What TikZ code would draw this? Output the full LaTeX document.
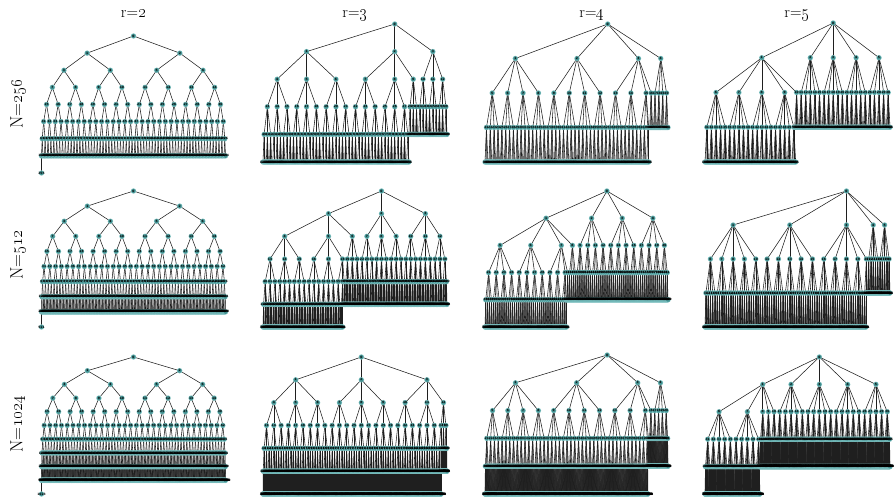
\documentclass[tikz,border=0pt]{standalone}
\makeatletter
\newcount\Nn \newcount\Rr \newcount\Dd
\newcount\ii \newcount\ie \newcount\ca \newcount\cb \newcount\kk \newcount\mm \newcount\dd \newcount\tmp
\newdimen\xprev \newdimen\xc \newdimen\xmax \newdimen\xa \newdimen\ya
\newif\iffirstinlevel
\font\labfnt="DejaVu Sans/B" at 3bp
\def\labfont{\labfnt}
\def\dolevel{%
  \ifnum\dd<0 \else
    \ii=\csname ls@\the\dd\endcsname\relax
    \tmp=\dd \advance\tmp 1
    \ie=\csname ls@\the\tmp\endcsname\relax
    \firstinleveltrue
    \loop
      \ca=\ii \multiply\ca\Rr \advance\ca 1
      \ifnum\ca<\Nn
        \cb=\ca \advance\cb\Rr \advance\cb -1
        \ifnum\cb<\Nn \else \cb=\Nn \advance\cb -1 \fi
        \kk=\cb \advance\kk -\ca \advance\kk 1
        \ifodd\kk
          \mm=\kk \advance\mm -1 \divide\mm 2 \advance\mm\ca
          \xc=\csname px@\the\mm\endcsname\relax
        \else
          \mm=\kk \divide\mm 2 \advance\mm -1 \advance\mm\ca
          \xc=\csname px@\the\mm\endcsname\relax
          \advance\mm 1
          \advance\xc\csname px@\the\mm\endcsname\relax
          \divide\xc 2
        \fi
        \iffirstinlevel\else
          \xa=\xprev \advance\xa 1pt
          \ifdim\xc<\xa \xc=\xa \fi
        \fi
      \else
        \iffirstinlevel \xc=0pt \else \xc=\xprev \advance\xc 1pt \fi
      \fi
      \expandafter\xdef\csname px@\the\ii\endcsname{\the\xc}%
      \expandafter\xdef\csname pd@\the\ii\endcsname{\the\dd}%
      \ifdim\xc>\xmax \xmax=\xc \fi
      \xprev=\xc
      \firstinlevelfalse
      \advance\ii 1
    \ifnum\ii<\ie \repeat
    \advance\dd -1
    \expandafter\dolevel
  \fi}
\def\computelayout{%
  \dd=0 \ii=0
  \expandafter\xdef\csname ls@0\endcsname{0}%
  \loop
    \tmp=\ii \multiply\tmp\Rr \advance\tmp 1
  \ifnum\tmp<\Nn
    \advance\dd 1 \ii=\tmp
    \expandafter\xdef\csname ls@\the\dd\endcsname{\the\ii}%
  \repeat
  \Dd=\dd
  \tmp=\dd \advance\tmp 1
  \expandafter\xdef\csname ls@\the\tmp\endcsname{\the\Nn}%
  \xmax=0pt
  \dolevel}
% #1 N, #2 r, #3 x left, #4 x right, #5 y top, #6 y bottom  (units: px = bp)
\def\drawpanel#1#2#3#4#5#6{%
  \Nn=#1 \Rr=#2
  \computelayout
  \pgfmathsetmacro\sxf{(#4-#3)/\xmax}%
  \pgfmathsetmacro\syf{(#6-#5)/\Dd}%
  \ii=0
  \loop
    \xa=\csname px@\the\ii\endcsname\relax
    \xa=\sxf\xa \advance\xa #3pt
    \ya=\csname pd@\the\ii\endcsname pt\relax
    \ya=\syf\ya \advance\ya #5pt \ya=-\ya
    \expandafter\xdef\csname qx@\the\ii\endcsname{\strip@pt\xa}%
    \expandafter\xdef\csname qy@\the\ii\endcsname{\strip@pt\ya}%
    \advance\ii 1
  \ifnum\ii<\Nn \repeat
  % connectors parent -> child
  \ii=1
  \loop
    \tmp=\ii \advance\tmp -1 \divide\tmp\Rr
    \pgfsys@invoke{q 0.55 w 0.12 0.12 0.12 RG \csname qx@\the\tmp\endcsname\space\csname qy@\the\tmp\endcsname\space m \csname qx@\the\ii\endcsname\space\csname qy@\the\ii\endcsname\space l S Q}%
    \advance\ii 1
  \ifnum\ii<\Nn \repeat
  % node discs (light ring + teal core)
  \ii=0
  \loop
    \edef\pxy{\csname qx@\the\ii\endcsname\space\csname qy@\the\ii\endcsname}%
    \pgfsys@invoke{q 1 J 5.4 w 0.47 0.74 0.74 RG \pxy\space m \pxy\space l S 4.0 w 0.26 0.56 0.56 RG \pxy\space m \pxy\space l S Q}%
    \advance\ii 1
  \ifnum\ii<\Nn \repeat
  % node labels
  \pgftext[left,base,at=\pgfpointorigin]{\hbox to 0pt{\labfont\ii=0 \loop\rlap{\kern\csname qx@\the\ii\endcsname bp\raise\dimexpr\csname qy@\the\ii\endcsname bp-1.1bp\relax\hbox to 0pt{\hss\the\ii\hss}}\advance\ii 1 \ifnum\ii<\Nn \repeat\hss}}%
}
\makeatother
\tikzset{
  ttl/.style={font=\fontsize{16}{19}\selectfont, anchor=base, inner sep=0pt},
  rowlab/.style={font=\fontsize{18}{21}\selectfont, rotate=90, anchor=base, inner sep=0pt}
}
\begin{document}
\begin{tikzpicture}[x=1bp,y=1bp]
\useasboundingbox (0,0) rectangle (896,-498);
% row N=256
\drawpanel{256}{2}{41.5}{225.5}{36}{173}
\drawpanel{256}{3}{263}{447}{24}{162}
\drawpanel{256}{4}{485}{668}{24}{162}
\drawpanel{256}{5}{705}{890}{23}{162}
% row N=512
\drawpanel{512}{2}{41.5}{225.5}{191}{327}
\drawpanel{512}{3}{263}{447}{191}{327}
\drawpanel{512}{4}{485}{668}{191}{327}
\drawpanel{512}{5}{705}{890}{191}{327}
% row N=1024
\drawpanel{1024}{2}{41.5}{225.5}{357}{494}
\drawpanel{1024}{3}{263}{447}{357}{494}
\drawpanel{1024}{4}{485}{668}{355}{494}
\drawpanel{1024}{5}{705}{890}{357}{494}
% titles
\node[ttl] (t2) at (133.5,-18) {r=\oldstylenums{2}};
\node[ttl] (t3) at (355,-18) {r=\oldstylenums{3}};
\node[ttl] (t4) at (592,-18) {r=\oldstylenums{4}};
\node[ttl] (t5) at (797,-18) {r=\oldstylenums{5}};
\node[rowlab] (l256) at (22.5,-104) {N=\oldstylenums{256}};
\node[rowlab] (l512) at (22.5,-255) {N=\oldstylenums{512}};
\node[rowlab] (l1024) at (22.5,-424) {N=\oldstylenums{1024}};
\end{tikzpicture}
\end{document}
